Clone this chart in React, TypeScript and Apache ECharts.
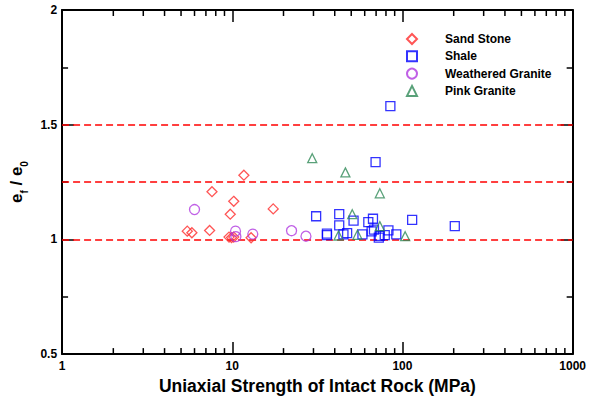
import React, { useEffect, useRef } from "react";
import * as echarts from "echarts";

const sandStone: [number, number][] = [
  [11.7, 1.28], [7.6, 1.208], [10.2, 1.166], [9.73, 1.11], [17.4, 1.133],
  [5.44, 1.036], [5.79, 1.029], [7.36, 1.039], [9.57, 1.01], [9.9, 1.008],
  [10.2, 1.01], [12.9, 1.007],
];
const shale: [number, number][] = [
  [84.9, 1.581], [69.5, 1.337], [31.1, 1.101], [42.5, 1.11], [42.5, 1.061],
  [51.6, 1.082], [67.1, 1.09], [63.0, 1.075], [114, 1.085], [203, 1.058],
  [36, 1.019], [36, 1.025], [45, 1.022], [47.3, 1.027], [58.2, 1.022],
  [65.9, 1.035], [68, 1.043], [72.6, 1.008], [73.5, 1.015], [78.7, 1.019],
  [82.7, 1.039], [92, 1.022],
];
const weatheredGranite: [number, number][] = [
  [6.0, 1.13], [10.45, 1.036], [10.5, 1.012], [13.2, 1.023], [22.3, 1.038], [27.1, 1.014],
];
const pinkGranite: [number, number][] = [
  [29.5, 1.354], [46.2, 1.292], [73.6, 1.201], [50.7, 1.11], [73.6, 1.058],
  [42.1, 1.017], [54.4, 1.02], [103.7, 1.014],
];
const refLines = [1, 1.25, 1.5];
const minorX = [2, 3, 4, 5, 6, 7, 8, 9, 20, 30, 40, 50, 60, 70, 80, 90, 200, 300, 400, 500, 600, 700, 800, 900];

const FONT = "'Liberation Sans', Arial, sans-serif";

export default function App() {
  const ref = useRef<HTMLDivElement>(null);
  useEffect(() => {
    if (!ref.current) return;
    const chart = echarts.init(ref.current, null, { renderer: "svg" });
    const axisLine = { show: true, lineStyle: { color: "#000", width: 2 } };
    const mk = (name: string, data: [number, number][], symbol: string, size: number, color: string) => ({
      name,
      type: "scatter",
      data,
      symbol,
      symbolSize: size,
      itemStyle: { color: "rgba(0,0,0,0)", borderColor: color, borderWidth: 1.3 },
      z: 5,
    });
    chart.setOption({
      animation: false,
      backgroundColor: "#fff",
      grid: { left: 57, right: 13, top: 10, bottom: 44 },
      legend: {
        orient: "vertical",
        left: 401,
        top: 28,
        itemWidth: 10,
        itemHeight: 10,
        itemGap: 5.3,
        textStyle: { fontFamily: FONT, fontWeight: "bold", fontSize: 12, color: "#000", padding: [0, 0, 0, 23] },
        data: ["Sand Stone", "Shale", "Weathered Granite", "Pink Granite"],
      },
      xAxis: [
        {
          type: "log",
          logBase: 10,
          min: 1,
          max: 1000,
          position: "bottom",
          axisLine,
          axisTick: { show: true, inside: true, length: 12, lineStyle: { color: "#000", width: 1.5 } },
          axisLabel: {
            fontFamily: FONT, fontWeight: "bold", fontSize: 12, color: "#000", margin: 6,
            formatter: (v: number) => String(Math.round(v)),
          },
          splitLine: { show: false },
          name: "Uniaxial Strength of Intact Rock (MPa)",
          nameLocation: "middle",
          nameGap: 18,
          nameTextStyle: { fontFamily: FONT, fontWeight: "bold", fontSize: 17.5, color: "#000", verticalAlign: "top" },
        },
        {
          type: "log",
          logBase: 10,
          min: 1,
          max: 1000,
          position: "top",
          axisLine,
          axisTick: { show: true, inside: true, length: 12, lineStyle: { color: "#000", width: 1.5 } },
          axisLabel: { show: false },
          splitLine: { show: false },
        },
      ],
      yAxis: [
        {
          type: "value",
          min: 0.5,
          max: 2,
          interval: 0.5,
          position: "left",
          axisLine,
          axisTick: { show: true, inside: true, length: 12, lineStyle: { color: "#000", width: 1.5 } },
          minorTick: { show: true, splitNumber: 2, length: 6, lineStyle: { color: "#000", width: 1.5 } },
          axisLabel: { fontFamily: FONT, fontWeight: "bold", fontSize: 12, color: "#000", margin: 5 },
          splitLine: { show: false },
          name: "{a|e}{s|f}{a| / e}{s|0}",
          nameLocation: "middle",
          nameGap: 30,
          nameRotate: 90,
          nameTextStyle: {
            rich: {
              a: { fontFamily: FONT, fontWeight: "bold", fontSize: 17, color: "#000", lineHeight: 26, verticalAlign: "middle" },
              s: { fontFamily: FONT, fontWeight: "bold", fontSize: 10, color: "#000", lineHeight: 10, verticalAlign: "bottom" },
            },
          },
        },
        {
          type: "value",
          min: 0.5,
          max: 2,
          interval: 0.5,
          position: "right",
          axisLine,
          axisTick: { show: true, inside: true, length: 12, lineStyle: { color: "#000", width: 1.5 } },
          minorTick: { show: true, splitNumber: 2, length: 6, lineStyle: { color: "#000", width: 1.5 } },
          axisLabel: { show: false },
          splitLine: { show: false },
        },
      ],
      series: [
        {
          type: "custom",
          silent: true,
          clip: false,
          data: minorX.map((v) => [v, 1]),
          encode: { x: 0, y: 1 },
          z: 3,
          renderItem: (_params: any, api: any) => {
            const v = api.value(0);
            const b = api.coord([v, 0.5]);
            const t = api.coord([v, 2]);
            const style = { stroke: "#000", lineWidth: 1.5 };
            return {
              type: "group",
              children: [
                { type: "line", shape: { x1: b[0], y1: b[1], x2: b[0], y2: b[1] - 6 }, style },
                { type: "line", shape: { x1: t[0], y1: t[1], x2: t[0], y2: t[1] + 6 }, style },
              ],
            };
          },
        },
        {
          ...mk("Sand Stone", sandStone, "diamond", 10, "#ff2a2a"),
          markLine: {
            silent: true,
            symbol: "none",
            label: { show: false },
            lineStyle: { color: "#ff0000", type: [7, 4], width: 1.5 },
            data: refLines.map((v) => ({ yAxis: v })),
            z: 2,
          },
        },
        mk("Shale", shale, "rect", 9, "#0000ff"),
        mk("Weathered Granite", weatheredGranite, "circle", 10, "#b038e0"),
        mk("Pink Granite", pinkGranite, "triangle", 9, "#2f8a57"),
      ],
    });
    return () => chart.dispose();
  }, []);
  return <div ref={ref} style={{ position: "fixed", left: 0, top: 0, width: 589, height: 400 }} />;
}
